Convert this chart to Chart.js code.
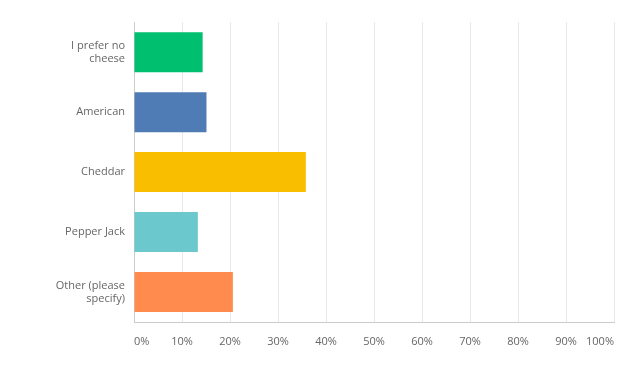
<!DOCTYPE html>
<html>
<head>
<meta charset="utf-8">
<script src="https://cdn.jsdelivr.net/npm/chart.js@4"></script>
<style>
html,body{margin:0;padding:0;background:#fff;}
#wrap{width:637px;height:381px;position:relative;}
</style>
</head>
<body>
<div id="wrap"><canvas id="c" width="637" height="381"></canvas></div>
<script>
const categories = [["I prefer no","cheese"], "American", "Cheddar", "Pepper Jack", ["Other (please","specify)"]];
const values = [14.3, 15.1, 35.8, 13.3, 20.6];
const barColors = ["#00BF6F", "#507CB6", "#F9BE00", "#6BC8CD", "#FF8B4F"];
const tickValues = [0, 10, 20, 30, 40, 50, 60, 70, 80, 90, 100];

new Chart(document.getElementById('c'), {
  type: 'bar',
  data: {
    labels: categories,
    datasets: [{
      data: values,
      backgroundColor: barColors,
      borderWidth: 0,
      categoryPercentage: 1,
      barPercentage: 0.667
    }]
  },
  options: {
    indexAxis: 'y',
    responsive: false,
    animation: false,
    layout: { padding: { left: 0, right: 23, top: 22, bottom: 0 } },
    plugins: { legend: { display: false }, tooltip: { enabled: false } },
    scales: {
      x: {
        min: 0, max: 100,
        afterBuildTicks: (axis) => { axis.ticks = tickValues.map(v => ({ value: v })); },
        afterFit: (axis) => { axis.height = 59; },
        grid: { color: '#e8e8e8', lineWidth: 1, drawTicks: false },
        border: { color: '#cccccc', width: 1 },
        ticks: {
          align: 'inner',
          padding: 13,
          maxRotation: 0,
          autoSkip: false,
          color: '#666666',
          font: { family: 'Open Sans', size: 11 },
          callback: (v) => v + '%'
        }
      },
      y: {
        afterFit: (axis) => { axis.width = 134; },
        grid: { display: false, drawTicks: false },
        border: { color: '#cccccc', width: 1 },
        ticks: {
          padding: 9,
          color: '#666666',
          font: { family: 'Open Sans', size: 11, lineHeight: 1.2 }
        }
      }
    }
  }
});
</script>
</body>
</html>
